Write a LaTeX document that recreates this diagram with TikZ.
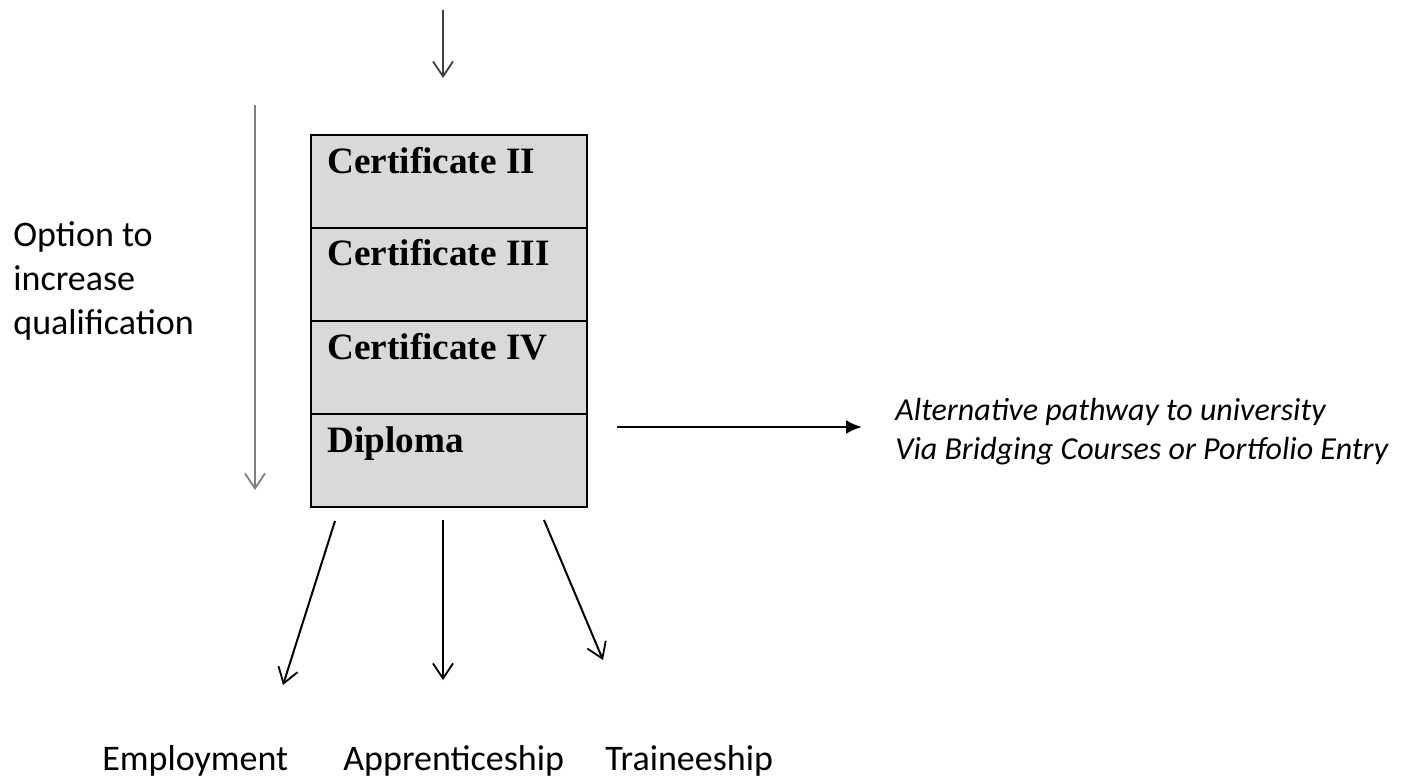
\documentclass[tikz,border=0pt]{standalone}
\usepackage{fontspec}
\setmainfont{Carlito}
\newfontfamily\boxserif{Liberation Serif}
\usetikzlibrary{arrows.meta}
\definecolor{rowfill}{HTML}{D9D9D9}
\definecolor{leftgray}{HTML}{7F7F7F}
\definecolor{topgray}{HTML}{3F3F3F}
\tikzset{
  rowbox/.style={draw=black, line width=1pt, fill=rowfill, minimum width=138pt,
    minimum height=46.5pt, inner sep=0pt, outer sep=0pt, anchor=north west},
  boxlbl/.style={font=\boxserif\bfseries\fontsize{18.6}{22}\selectfont, inner sep=0pt, anchor=base west},
  sidelbl/.style={font=\fontsize{18}{22}\selectfont, inner sep=0pt, anchor=base west},
  outlbl/.style={font=\fontsize{18}{22}\selectfont, inner sep=0pt, anchor=base west},
  altlbl/.style={font=\itshape\fontsize{16}{20}\selectfont, inner sep=0pt, anchor=base west},
  barb/.style={-{Straight Barb[length=7.5pt,width=10pt,line width=0.9pt]}},
}
\begin{document}
\begin{tikzpicture}[x=0.5pt,y=-0.5pt]
\useasboundingbox (0,0) rectangle (1408,778);
% stacked qualification box
\node[rowbox] (r1) at (311,135) {};
\node[rowbox] (r2) at (311,228) {};
\node[rowbox] (r3) at (311,321) {};
\node[rowbox] (r4) at (311,414) {};
\node[boxlbl] (c2) at (327,173) {Certificate II};
\node[boxlbl] (c3) at (327,265) {Certificate III};
\node[boxlbl] (c4) at (327,359) {Certificate IV};
\node[boxlbl] (dip) at (327,452) {Diploma};
% side label
\node[sidelbl] (o1) at (13,246) {Option to};
\node[sidelbl] (o2) at (13,290) {increase};
\node[sidelbl] (o3) at (13,334) {qualification};
% alternative pathway
\node[altlbl] (alt1) at (895,420) {Alternative pathway to university};
\node[altlbl] (alt2) at (895,459) {Via Bridging Courses or Portfolio Entry};
% outcomes
\node[outlbl] (emp) at (102,770) {Employment};
\node[outlbl] (app) at (343,770) {Apprenticeship};
\node[outlbl] (tra) at (605,770) {Traineeship};
% connector end points
\coordinate (topS) at (443,10);
\coordinate (topE) at (443,78);
\coordinate (lS) at (255,105);
\coordinate (lE) at (255,490);
\coordinate (rS) at (617,427);
\coordinate (rE) at (862,427);
\coordinate (b1S) at (335,521);
\coordinate (b1E) at (283,685);
\coordinate (b2S) at (443,520);
\coordinate (b2E) at (443,680);
\coordinate (b3S) at (544,520);
\coordinate (b3E) at (603,660);
% arrows
\draw[barb, draw=topgray, line width=0.8pt] (topS) -- (topE);
\draw[barb, draw=leftgray, line width=0.8pt] (lS) -- (lE);
\draw[-{Latex[length=8pt,width=7pt]}, line width=1.3pt] (rS) -- (rE);
\draw[barb, line width=1pt] (b1S) -- (b1E);
\draw[barb, line width=1.1pt] (b2S) -- (b2E);
\draw[barb, line width=1pt] (b3S) -- (b3E);
\end{tikzpicture}
\end{document}
